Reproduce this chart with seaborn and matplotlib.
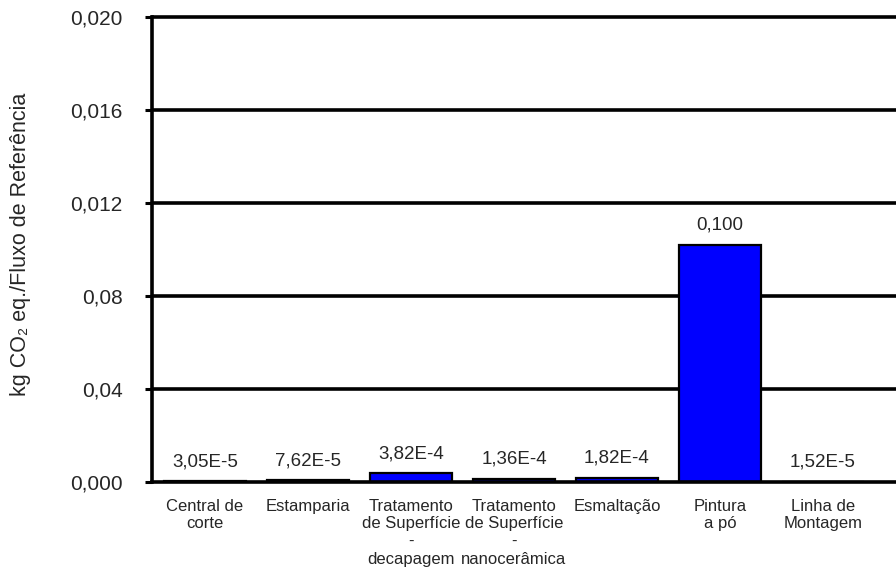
import matplotlib
matplotlib.use("Agg")
import matplotlib.pyplot as plt
import seaborn as sns
import pandas as pd

# Processos da linha de produção e emissões associadas
categorias = [
    "Central de\ncorte",
    "Estamparia",
    "Tratamento\nde Superfície\n-\ndecapagem",
    "Tratamento\nde Superfície\n-\nnanocerâmica",
    "Esmaltação",
    "Pintura\na pó",
    "Linha de\nMontagem",
]
valores = [3.05e-5, 7.62e-5, 3.82e-4, 1.36e-4, 1.82e-4, 0.0102, 1.52e-5]
rotulos = ["3,05E-5", "7,62E-5", "3,82E-4", "1,36E-4", "1,82E-4", "0,100", "1,52E-5"]

y_ticks = [0.0, 0.004, 0.008, 0.012, 0.016, 0.020]
y_ticklabels = ["0,000", "0,04", "0,08", "0,012", "0,016", "0,020"]

df = pd.DataFrame({"processo": categorias, "valor": valores})

sns.set_style("white")
plt.rcParams["font.family"] = ["Liberation Sans", "DejaVu Sans"]

fig = plt.figure(figsize=(8.96, 5.69), dpi=100)
ax = fig.add_axes([0.1696, 0.1529, 0.8304, 0.8172])

sns.barplot(data=df, x="processo", y="valor", color="#0000FF",
            saturation=1, width=0.8, edgecolor="black", linewidth=1.6,
            ax=ax, zorder=3)

ax.set_xlim(-0.515, 6.71)
ax.set_ylim(y_ticks[0], y_ticks[-1])

# Linhas de grade horizontais grossas
for t in y_ticks[1:]:
    ax.axhline(t, color="black", lw=2.6, zorder=1, clip_on=False)

ax.set_yticks(y_ticks)
ax.set_yticklabels(y_ticklabels, fontsize=15)
ax.tick_params(axis="y", direction="out", length=5, width=2.2,
               color="black", pad=16, left=True)
ax.tick_params(axis="x", length=0, pad=12, labelsize=12)
for lab in ax.get_xticklabels():
    lab.set_linespacing(1.22)

for side in ["top", "right"]:
    ax.spines[side].set_visible(False)
for side in ["left", "bottom"]:
    ax.spines[side].set_color("black")
    ax.spines[side].set_linewidth(2.6)
    ax.spines[side].set_zorder(4)

ax.set_xlabel("")
ax.set_ylabel("kg CO₂ eq./Fluxo de Referência", fontsize=15.5)
ax.yaxis.set_label_coords(-0.162, 0.51)

# Rótulos de valor sobre cada barra
for i, (v, txt) in enumerate(zip(valores, rotulos)):
    ax.annotate(txt, (i, v), xytext=(0, 14), textcoords="offset points",
                ha="center", va="center", fontsize=13.5)

fig.savefig("out.png", dpi=100)
